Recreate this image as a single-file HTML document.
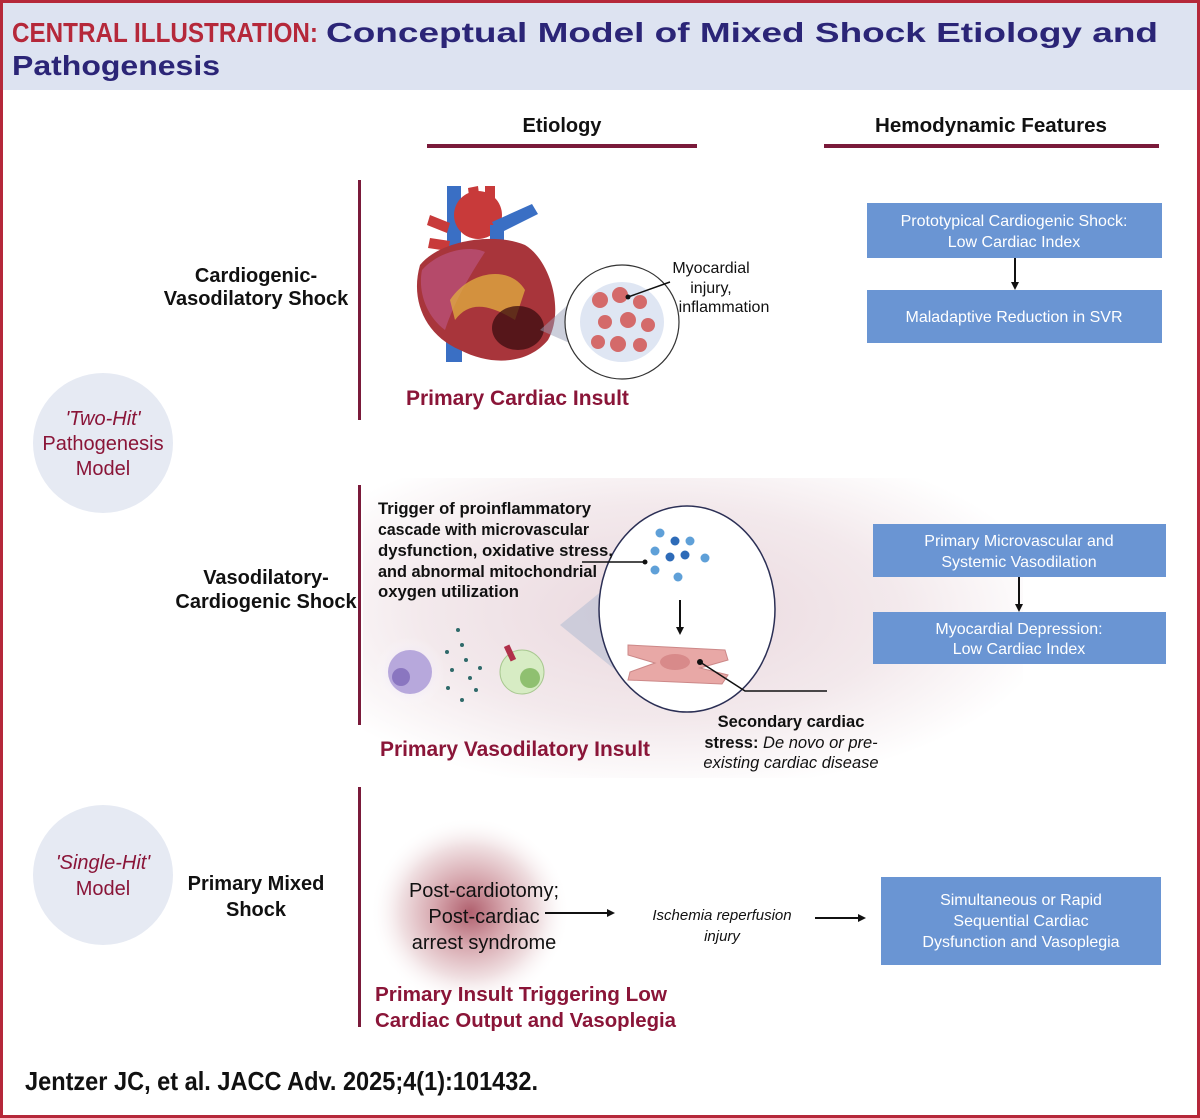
<!DOCTYPE html>
<html><head><meta charset="utf-8"><style>
html,body{margin:0;padding:0;background:#fff}
svg{display:block;font-family:"Liberation Sans",sans-serif}
</style></head><body>
<svg width="1200" height="1118" viewBox="0 0 1200 1118" xmlns="http://www.w3.org/2000/svg">
<defs>
<radialGradient id="pinkbg" cx="0.45" cy="0.45" r="0.6">
<stop offset="0" stop-color="#ead8de"/><stop offset="0.6" stop-color="#f3e9ec"/><stop offset="1" stop-color="#ffffff"/>
</radialGradient>
<radialGradient id="mixed" cx="0.5" cy="0.5" r="0.5">
<stop offset="0" stop-color="#b0606e"/><stop offset="0.35" stop-color="#d6a6ad"/><stop offset="0.7" stop-color="#f0e0e2"/><stop offset="1" stop-color="#fff" stop-opacity="0"/>
</radialGradient>
<radialGradient id="purp" cx="0.5" cy="0.5" r="0.5"><stop offset="0" stop-color="#d8c8f0"/><stop offset="1" stop-color="#fff" stop-opacity="0"/></radialGradient>
<marker id="ah" markerWidth="8" markerHeight="8" refX="6" refY="4" orient="auto" markerUnits="userSpaceOnUse"><path d="M0,0 L8,4 L0,8 z" fill="#111"/></marker>
</defs>
<rect x="1.5" y="1.5" width="1197" height="1115" fill="#fff" stroke="#b5283a" stroke-width="3"/>
<rect x="3" y="3" width="1194" height="87" fill="#dde3f1"/>
<text x="12" y="42" font-size="28" font-weight="bold" fill="#b5283a" textLength="306" lengthAdjust="spacingAndGlyphs">CENTRAL ILLUSTRATION:</text>
<text x="326" y="42" font-size="28" font-weight="bold" fill="#2b2577" textLength="832" lengthAdjust="spacingAndGlyphs">Conceptual Model of Mixed Shock Etiology and</text>
<text x="12" y="75" font-size="28" font-weight="bold" fill="#2b2577" textLength="208" lengthAdjust="spacingAndGlyphs">Pathogenesis</text>

<text x="562" y="132" font-size="20" font-weight="bold" text-anchor="middle" fill="#111">Etiology</text>
<text x="991" y="132" font-size="20" font-weight="bold" text-anchor="middle" fill="#111" textLength="232" lengthAdjust="spacingAndGlyphs">Hemodynamic Features</text>
<rect x="427" y="144" width="270" height="4" fill="#7a1a3a"/>
<rect x="824" y="144" width="335" height="4" fill="#7a1a3a"/>

<rect x="363" y="478" width="660" height="300" fill="url(#pinkbg)"/>

<rect x="358" y="180" width="3" height="240" fill="#7a1a3a"/>
<rect x="358" y="485" width="3" height="240" fill="#7a1a3a"/>
<rect x="358" y="787" width="3" height="240" fill="#7a1a3a"/>

<g font-size="20" font-weight="bold" fill="#111" text-anchor="middle">
<text x="256" y="282">Cardiogenic-</text>
<text x="256" y="305">Vasodilatory Shock</text>
<text x="266" y="584">Vasodilatory-</text>
<text x="266" y="608">Cardiogenic Shock</text>
<text x="256" y="890">Primary Mixed</text>
<text x="256" y="916">Shock</text>
</g>

<circle cx="103" cy="443" r="70" fill="#e6eaf3"/>
<circle cx="103" cy="875" r="70" fill="#e6eaf3"/>
<g font-size="20" fill="#8a1538" text-anchor="middle">
<text x="103" y="425" font-style="italic">'Two-Hit'</text>
<text x="103" y="450">Pathogenesis</text>
<text x="103" y="475">Model</text>
<text x="103" y="869" font-style="italic">'Single-Hit'</text>
<text x="103" y="895">Model</text>
</g>

<g fill="#6a95d3">
<rect x="867" y="203" width="295" height="55"/>
<rect x="867" y="290" width="295" height="53"/>
<rect x="873" y="524" width="293" height="53"/>
<rect x="873" y="612" width="293" height="52"/>
<rect x="881" y="877" width="280" height="88"/>
</g>
<g font-size="16" fill="#fff" text-anchor="middle">
<text x="1014" y="226">Prototypical Cardiogenic Shock:</text>
<text x="1014" y="247">Low Cardiac Index</text>
<text x="1014" y="322">Maladaptive Reduction in SVR</text>
<text x="1019" y="546">Primary Microvascular and</text>
<text x="1019" y="567">Systemic Vasodilation</text>
<text x="1019" y="634">Myocardial Depression:</text>
<text x="1019" y="654">Low Cardiac Index</text>
<text x="1021" y="905">Simultaneous or Rapid</text>
<text x="1021" y="926">Sequential Cardiac</text>
<text x="1021" y="947">Dysfunction and Vasoplegia</text>
</g>
<line x1="1015" y1="258" x2="1015" y2="288" stroke="#111" stroke-width="2" marker-end="url(#ah)"/>
<line x1="1019" y1="577" x2="1019" y2="610" stroke="#111" stroke-width="2" marker-end="url(#ah)"/>

<!-- heart -->
<g>
<rect x="447" y="186" width="14" height="60" fill="#3a6fc4"/>
<rect x="446" y="300" width="16" height="62" fill="#3a6fc4"/>
<path d="M468,188 l10,-2 l4,32 l-10,2z M485,186 l10,0 l0,30 l-10,0z" fill="#c83a3a"/>
<ellipse cx="478" cy="215" rx="24" ry="24" fill="#c83a3a"/>
<path d="M492,222 l40,-18 l6,10 l-40,20z" fill="#3a6fc4"/>
<rect x="490" y="225" width="14" height="40" fill="#3a6fc4"/>
<path d="M430,215 l20,8 l-3,10 l-20,-8z M430,238 l20,3 l-2,10 l-20,-3z" fill="#c83a3a"/>
<path d="M420,265 C410,300 425,335 460,350 C495,368 530,362 548,340 C565,310 550,260 525,245 C495,232 440,240 420,265z" fill="#a8353b"/>
<path d="M422,270 C440,250 470,245 485,252 C470,275 455,300 445,330 C425,315 418,290 422,270z" fill="#b54a6a"/>
<path d="M450,300 C470,270 510,265 525,290 L515,320 C490,305 470,300 455,320z" fill="#e2b040" opacity="0.75"/>
<ellipse cx="518" cy="328" rx="26" ry="22" fill="#3b0c10" opacity="0.75"/>
<polygon points="540,330 582,292 590,352" fill="#9aa0b8" opacity="0.5"/>
<circle cx="622" cy="322" r="57" fill="#fff" stroke="#333" stroke-width="1.2"/>
<ellipse cx="622" cy="322" rx="42" ry="40" fill="#dfe6f3"/>
<g fill="#d46a6a">
<circle cx="600" cy="300" r="8"/><circle cx="620" cy="295" r="8"/><circle cx="640" cy="302" r="7"/>
<circle cx="605" cy="322" r="7"/><circle cx="628" cy="320" r="8"/><circle cx="648" cy="325" r="7"/>
<circle cx="598" cy="342" r="7"/><circle cx="618" cy="344" r="8"/><circle cx="640" cy="345" r="7"/>
</g>
<polyline points="628,297 670,282" fill="none" stroke="#111" stroke-width="1.5"/>
<circle cx="628" cy="297" r="2.5" fill="#111"/>
</g>
<g font-size="16" fill="#111" text-anchor="middle">
<text x="711" y="273">Myocardial</text>
<text x="711" y="293">injury,</text>
<text x="724" y="312">inflammation</text>
</g>
<text x="406" y="405" font-size="21" font-weight="bold" fill="#8a1538">Primary Cardiac Insult</text>

<polygon points="560,625 640,560 640,690" fill="#b8bfd4" opacity="0.6"/>
<ellipse cx="687" cy="609" rx="88" ry="103" fill="#fff" stroke="#2b2f55" stroke-width="1.5"/>
<g>
<circle cx="660" cy="533" r="4.5" fill="#5fa0d8"/><circle cx="675" cy="541" r="4.5" fill="#2e6bb8"/><circle cx="690" cy="541" r="4.5" fill="#5fa0d8"/>
<circle cx="655" cy="551" r="4.5" fill="#5fa0d8"/><circle cx="670" cy="557" r="4.5" fill="#2e6bb8"/><circle cx="685" cy="555" r="4.5" fill="#2e6bb8"/><circle cx="705" cy="558" r="4.5" fill="#5fa0d8"/>
<circle cx="655" cy="570" r="4.5" fill="#5fa0d8"/><circle cx="678" cy="577" r="4.5" fill="#5fa0d8"/>
</g>
<line x1="582" y1="562" x2="645" y2="562" stroke="#111" stroke-width="1.5"/>
<circle cx="645" cy="562" r="2.5" fill="#111"/>
<line x1="680" y1="600" x2="680" y2="633" stroke="#111" stroke-width="2" marker-end="url(#ah)"/>
<path d="M628,645 L725,650 L728,660 L700,668 L728,675 L722,684 L628,680 L630,672 L655,663 L628,655z" fill="#e8a8a6" stroke="#c88" stroke-width="1"/>
<ellipse cx="675" cy="662" rx="15" ry="8" fill="#d88a8a"/>
<polyline points="700,662 745,691 827,691" fill="none" stroke="#111" stroke-width="1.5"/>
<circle cx="700" cy="662" r="3" fill="#111"/>

<circle cx="410" cy="672" r="35" fill="url(#purp)"/>
<circle cx="410" cy="672" r="22" fill="#b7a8dc"/>
<circle cx="401" cy="677" r="9" fill="#8a76c0"/>
<g fill="#2f6a6a">
<circle cx="458" cy="630" r="2"/><circle cx="462" cy="645" r="2"/><circle cx="447" cy="652" r="2"/><circle cx="466" cy="660" r="2"/>
<circle cx="452" cy="670" r="2"/><circle cx="470" cy="678" r="2"/><circle cx="448" cy="688" r="2"/><circle cx="462" cy="700" r="2"/><circle cx="480" cy="668" r="2"/><circle cx="476" cy="690" r="2"/>
</g>
<circle cx="522" cy="672" r="22" fill="#d7ecc4" stroke="#a8c890"/>
<circle cx="530" cy="678" r="10" fill="#8fc070"/>
<rect x="507" y="645" width="6" height="16" fill="#b0304a" transform="rotate(-25 510 653)"/>

<g font-size="16.5" font-weight="bold" fill="#111">
<text x="378" y="514" textLength="213" lengthAdjust="spacingAndGlyphs">Trigger of proinflammatory</text>
<text x="378" y="535" textLength="211" lengthAdjust="spacingAndGlyphs">cascade with microvascular</text>
<text x="378" y="556" textLength="235" lengthAdjust="spacingAndGlyphs">dysfunction, oxidative stress,</text>
<text x="378" y="577" textLength="219" lengthAdjust="spacingAndGlyphs">and abnormal mitochondrial</text>
<text x="378" y="597" textLength="141" lengthAdjust="spacingAndGlyphs">oxygen utilization</text>
</g>
<g font-size="16.5" fill="#111" text-anchor="middle">
<text x="791" y="727" font-weight="bold">Secondary cardiac</text>
<text x="791" y="748"><tspan font-weight="bold">stress: </tspan><tspan font-style="italic">De novo or pre-</tspan></text>
<text x="791" y="768" font-style="italic">existing cardiac disease</text>
</g>
<text x="380" y="756" font-size="21" font-weight="bold" fill="#8a1538" textLength="270" lengthAdjust="spacingAndGlyphs">Primary Vasodilatory Insult</text>

<ellipse cx="470" cy="912" rx="100" ry="95" fill="url(#mixed)"/>
<g font-size="20" fill="#111" text-anchor="middle">
<text x="484" y="897">Post-cardiotomy;</text>
<text x="484" y="923">Post-cardiac</text>
<text x="484" y="949">arrest syndrome</text>
</g>
<line x1="545" y1="913" x2="613" y2="913" stroke="#111" stroke-width="2" marker-end="url(#ah)"/>
<g font-size="15" font-style="italic" fill="#111" text-anchor="middle">
<text x="722" y="920">Ischemia reperfusion</text>
<text x="722" y="941">injury</text>
</g>
<line x1="815" y1="918" x2="864" y2="918" stroke="#111" stroke-width="2" marker-end="url(#ah)"/>
<g font-size="20" font-weight="bold" fill="#8a1538">
<text x="375" y="1001" textLength="292" lengthAdjust="spacingAndGlyphs">Primary Insult Triggering Low</text>
<text x="375" y="1027" textLength="301" lengthAdjust="spacingAndGlyphs">Cardiac Output and Vasoplegia</text>
</g>
<text x="25" y="1090" font-size="26" font-weight="bold" fill="#111" textLength="513" lengthAdjust="spacingAndGlyphs">Jentzer JC, et al. JACC Adv. 2025;4(1):101432.</text>
</svg>
</body></html>
